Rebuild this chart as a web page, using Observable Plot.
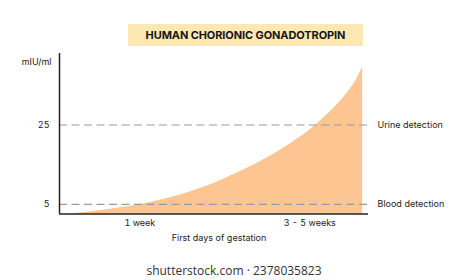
<!DOCTYPE html>
<html>
<head>
<meta charset="utf-8">
<script src="https://cdn.jsdelivr.net/npm/d3@7"></script>
<script src="https://cdn.jsdelivr.net/npm/@observablehq/plot@0.6"></script>
<style>
  html, body { margin: 0; padding: 0; background: #fff; }
  #wrap { position: relative; width: 468px; height: 280px; overflow: hidden; font-family: Inter, "Noto Sans", sans-serif; }
  #title { position: absolute; left: 128px; top: 24px; width: 235px; height: 22px; background: #fde8b4;
           font-weight: 700; font-size: 11px; color: #151515; display: flex; align-items: center; justify-content: center; letter-spacing: -0.1px; }
  #caption { position: absolute; left: 0; width: 468px; top: 262px; text-align: center; font-family: "Open Sans", sans-serif; font-size: 12px; color: #333; }
  #chart { position: absolute; left: 0; top: 0; }
</style>
</head>
<body>
<div id="wrap">
  <div id="chart"></div>
  <div id="title">HUMAN CHORIONIC GONADOTROPIN</div>
  <div id="caption">shutterstock.com · 2378035823</div>
</div>
<script>
// Curve of hCG level over the first days of gestation (x: relative time 0–100, y: mIU/ml)
const timeValues = [3.6, 13, 26, 39, 52, 65, 75, 83, 90, 95, 98.1];
const hcgValues  = [2.6, 3.4, 5.0, 7.4, 11.0, 15.8, 20.4, 25.0, 30.2, 35.0, 39.6];
const baselineValue = 2.6;
const thresholds = [25, 5];
const thresholdLabels = ["Urine detection", "Blood detection"];
const xTickValues = [26, 81];
const xTickLabels = ["1 week", "3 - 5 weeks"];
const yTickValues = [5, 25];
const yUnit = "mIU/ml";
const xTitle = "First days of gestation";

const curve = timeValues.map((t, i) => ({t, v: hcgValues[i]}));
const lines = thresholds.map((v, i) => ({v, label: thresholdLabels[i]}));

const chart = Plot.plot({
  width: 468,
  height: 280,
  marginLeft: 59,
  marginRight: 100,
  marginTop: 53,
  marginBottom: 66.5,
  style: {fontFamily: "Inter, 'Noto Sans', sans-serif", fontSize: "9px", color: "#222", background: "transparent"},
  x: {domain: [0, 100], axis: null},
  y: {domain: [baselineValue, 43], axis: null},
  marks: [
    Plot.areaY(curve, {x: "t", y1: baselineValue, y2: "v", fill: "#fdc592", curve: "natural"}),
    Plot.ruleY(lines, {y: "v", stroke: "#9a9a9a", strokeWidth: 1.2, strokeDasharray: "8,4.5"}),
    Plot.text(lines, {y: "v", x: 100, text: "label", textAnchor: "start", dx: 9, fontSize: 9, fill: "#222"}),
    Plot.axisY(yTickValues, {tickSize: 0, tickPadding: 10, label: null, fontSize: 9, fill: "#222"}),
    Plot.axisX(xTickValues, {tickSize: 0, tickPadding: 6, label: null, tickFormat: (d) => xTickLabels[xTickValues.indexOf(d)], fontSize: 9, fill: "#222"}),
    Plot.ruleX([0], {stroke: "#222", strokeWidth: 1.5}),
    Plot.ruleY([baselineValue], {stroke: "#222", strokeWidth: 1.5}),
    Plot.text([yUnit], {frameAnchor: "top-left", dx: -8, dy: 5, textAnchor: "end", fontSize: 9, fill: "#222"}),
    Plot.text([xTitle], {frameAnchor: "bottom", dx: 5, dy: 27, fontSize: 9, fill: "#222"})
  ]
});
document.getElementById("chart").appendChild(chart);
</script>
</body>
</html>
